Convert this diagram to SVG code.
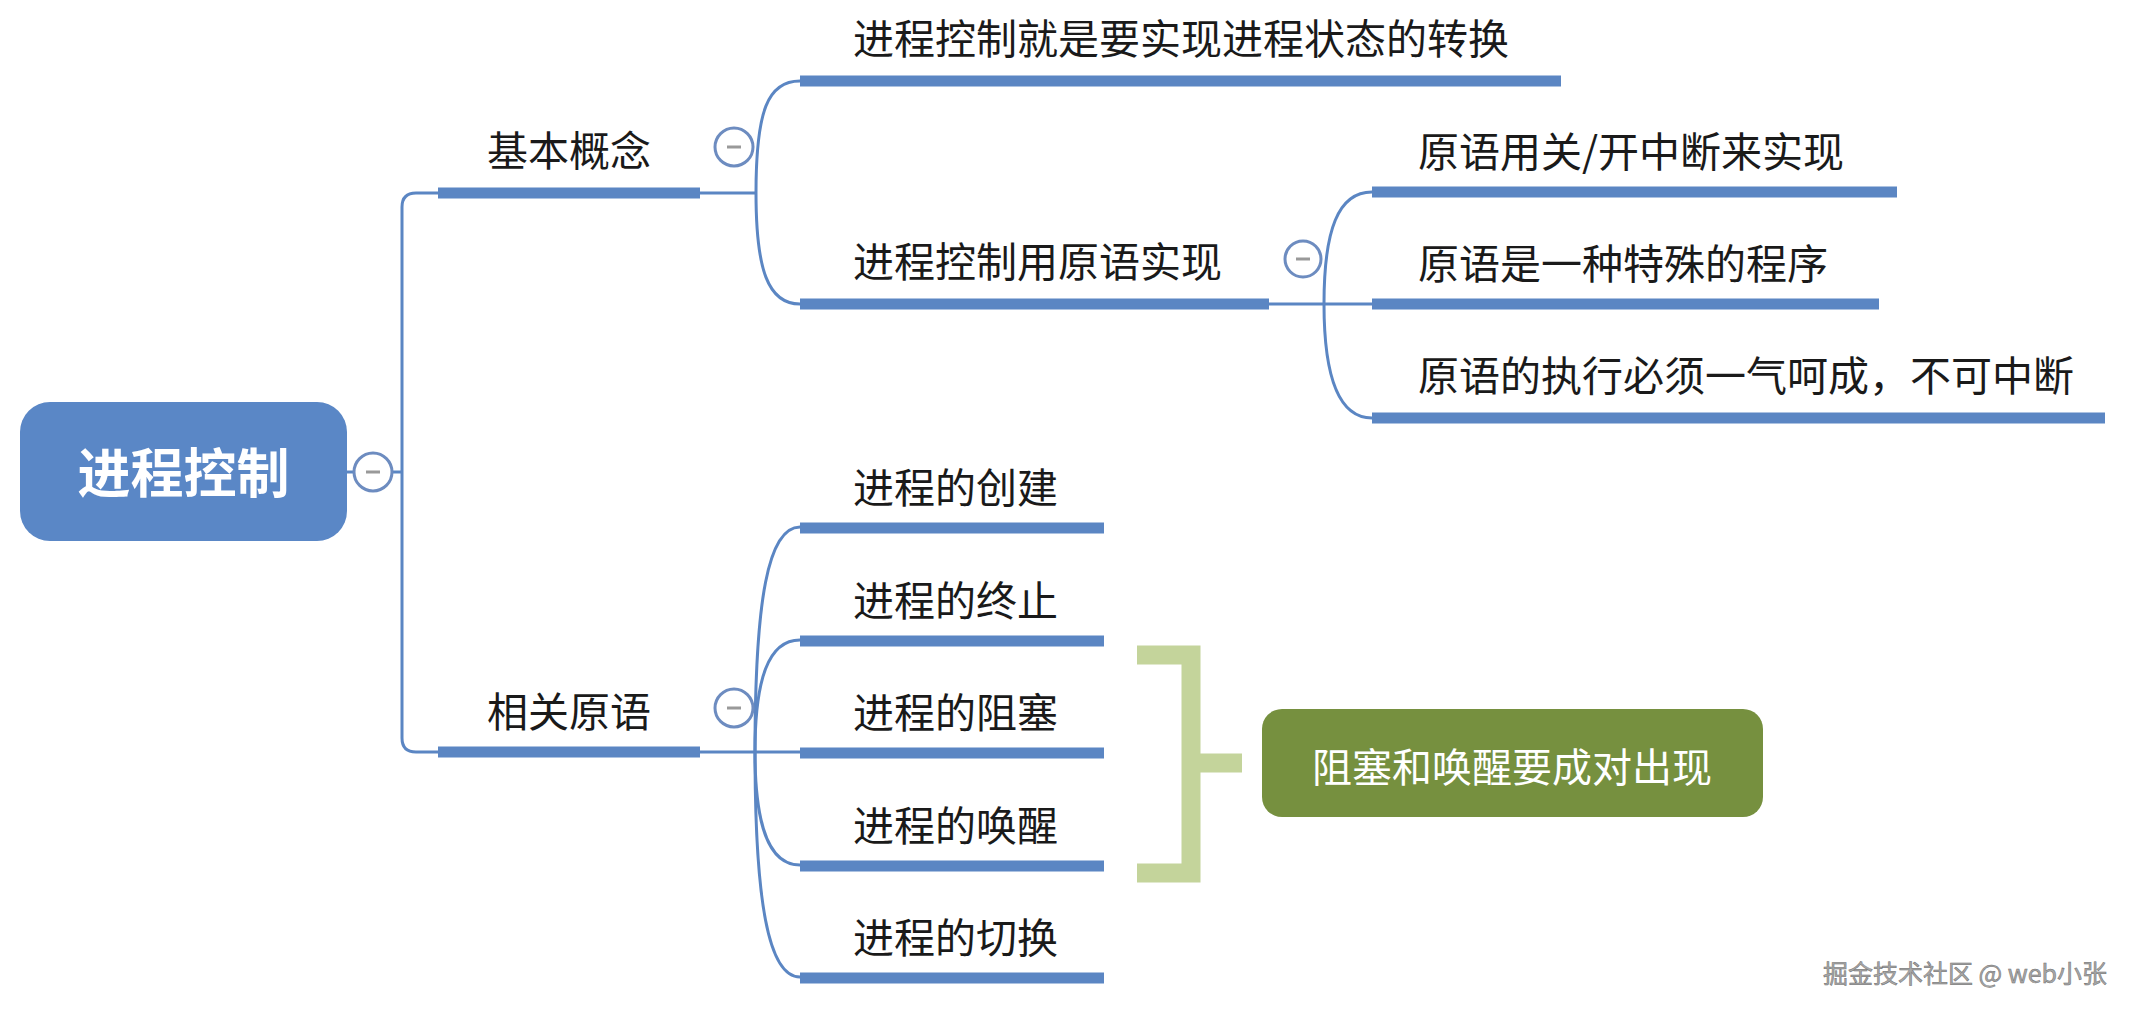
<svg xmlns="http://www.w3.org/2000/svg" width="2135" height="1014" viewBox="0 0 2135 1014">
<style>
.t{font-family:"Noto Sans CJK SC","Noto Sans",sans-serif;font-size:41px;fill:#1a1a1a}
.bar{stroke:#5b86c3;stroke-width:11;fill:none}
.c{fill:none;stroke:#5b86c3;stroke-width:3}
.col{fill:#fff;stroke:#6d8cc0;stroke-width:3}
.minus{stroke:#999;stroke-width:3}
</style>
<rect width="2135" height="1014" fill="#fff"/>
<g id="connectors">
<path class="c" d="M347 472 H353"/>
<path class="c" d="M393 472 H402"/>
<path class="c" d="M438 193 H416 Q402 193 402 207 V738 Q402 752 416 752 H438"/>
<path class="c" d="M700 193 H756"/>
<path class="c" d="M756 193 C756 110 768 81 800 81"/>
<path class="c" d="M756 193 C756 270 768 304 800 304"/>
<path class="c" d="M1269 304 H1372"/>
<path class="c" d="M1324 304 C1324 230 1338 192 1372 192"/>
<path class="c" d="M1324 304 C1324 380 1340 418 1372 418"/>
<path class="c" d="M700 752 H800"/>
<path class="c" d="M755 752 C755 600 768 527 800 527"/>
<path class="c" d="M755 752 C755 680 768 640 800 640"/>
<path class="c" d="M755 752 C755 824 768 865 800 865"/>
<path class="c" d="M755 752 C755 900 768 977 800 977"/>
</g>
<g id="root">
<rect x="20" y="402" width="327" height="139" rx="30" fill="#5a87c6"/>
<text x="183.5" y="493" text-anchor="middle" style="font-family:'Noto Sans CJK SC','Noto Sans',sans-serif;font-size:53px;font-weight:bold;fill:#fff">进程控制</text>
<circle class="col" cx="373" cy="472" r="19"/>
<line class="minus" x1="366" y1="472" x2="380" y2="472"/>
</g>
<g id="n-basic">
<text class="t" x="487" y="166">基本概念</text>
<line class="bar" x1="438" y1="193" x2="700" y2="193"/>
<circle class="col" cx="734" cy="147" r="19"/>
<line class="minus" x1="727" y1="147" x2="741" y2="147"/>
</g>
<g id="n-basic-1">
<text class="t" x="853" y="54">进程控制就是要实现进程状态的转换</text>
<line class="bar" x1="800" y1="81" x2="1561" y2="81"/>
</g>
<g id="n-basic-2">
<text class="t" x="853" y="277">进程控制用原语实现</text>
<line class="bar" x1="800" y1="304" x2="1269" y2="304"/>
<circle class="col" cx="1303" cy="259" r="18"/>
<line class="minus" x1="1296" y1="259" x2="1310" y2="259"/>
</g>
<g id="n-prim-1">
<text class="t" x="1418" y="167">原语用关/开中断来实现</text>
<line class="bar" x1="1372" y1="192" x2="1897" y2="192"/>
</g>
<g id="n-prim-2">
<text class="t" x="1418" y="279">原语是一种特殊的程序</text>
<line class="bar" x1="1372" y1="304" x2="1879" y2="304"/>
</g>
<g id="n-prim-3">
<text class="t" x="1418" y="391">原语的执行必须一气呵成，不可中断</text>
<line class="bar" x1="1372" y1="418" x2="2105" y2="418"/>
</g>
<g id="n-related">
<text class="t" x="487" y="727">相关原语</text>
<line class="bar" x1="438" y1="752" x2="700" y2="752"/>
<circle class="col" cx="734" cy="708" r="19"/>
<line class="minus" x1="727" y1="708" x2="741" y2="708"/>
</g>
<g id="n-create">
<text class="t" x="853" y="503">进程的创建</text>
<line class="bar" x1="800" y1="528" x2="1104" y2="528"/>
</g>
<g id="n-terminate">
<text class="t" x="853" y="616">进程的终止</text>
<line class="bar" x1="800" y1="641" x2="1104" y2="641"/>
</g>
<g id="n-block">
<text class="t" x="853" y="728">进程的阻塞</text>
<line class="bar" x1="800" y1="753" x2="1104" y2="753"/>
</g>
<g id="n-wakeup">
<text class="t" x="853" y="841">进程的唤醒</text>
<line class="bar" x1="800" y1="866" x2="1104" y2="866"/>
</g>
<g id="n-switch">
<text class="t" x="853" y="953">进程的切换</text>
<line class="bar" x1="800" y1="978" x2="1104" y2="978"/>
</g>
<g id="summary">
<path d="M1137 655 H1191 V873 H1137" fill="none" stroke="#c4d49b" stroke-width="19"/>
<path d="M1191 763 H1242" fill="none" stroke="#c4d49b" stroke-width="19"/>
</g>
<g id="n-note">
<rect x="1262" y="709" width="501" height="108" rx="20" fill="#76903f"/>
<text x="1512" y="782" text-anchor="middle" style="font-family:'Noto Sans CJK SC','Noto Sans',sans-serif;font-size:40px;fill:#fff">阻塞和唤醒要成对出现</text>
</g>
<text x="2107" y="983" text-anchor="end" style="font-family:'Noto Sans CJK SC','Noto Sans',sans-serif;font-size:25px;fill:#a8a8a8;stroke:#6e6e6e;stroke-width:0.5">掘金技术社区 @ web小张</text>
</svg>
